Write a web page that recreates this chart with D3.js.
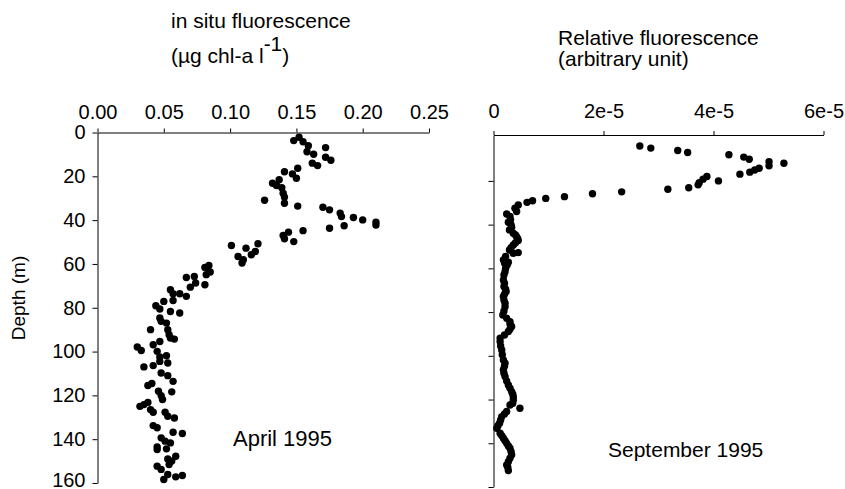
<!DOCTYPE html>
<html>
<head>
<meta charset="utf-8">
<script src="https://cdn.jsdelivr.net/npm/d3@7"></script>
<style>
  body { margin: 0; background: #fff; }
  svg text { font-family: "Liberation Sans", Arial, sans-serif; fill: #000; }
</style>
</head>
<body>
<div id="chart"></div>
<script>
// April 1995: in situ fluorescence (ug chl-a / l) vs depth (m)
var aprilValue = [
  0.148, 0.152, 0.155, 0.159, 0.158, 0.163, 0.172, 0.172, 0.176, 0.162,
  0.166, 0.151, 0.147, 0.141, 0.150, 0.137, 0.132, 0.135, 0.139, 0.140,
  0.141, 0.141, 0.126, 0.151, 0.170, 0.175, 0.183, 0.184, 0.193, 0.200,
  0.210, 0.210, 0.175, 0.186, 0.155, 0.144, 0.140, 0.141, 0.148, 0.101,
  0.112, 0.121, 0.119, 0.106, 0.110, 0.109, 0.116, 0.084, 0.081, 0.085,
  0.082, 0.067, 0.073, 0.070, 0.074, 0.081, 0.055, 0.057, 0.062, 0.067,
  0.057, 0.050, 0.044, 0.047, 0.055, 0.062, 0.047, 0.048, 0.052, 0.040,
  0.053, 0.054, 0.055, 0.058, 0.047, 0.042, 0.030, 0.033, 0.045, 0.047,
  0.052, 0.053, 0.035, 0.042, 0.047, 0.048, 0.053, 0.057, 0.038, 0.041,
  0.046, 0.048, 0.049, 0.056, 0.032, 0.035, 0.038, 0.040, 0.042, 0.051,
  0.053, 0.058, 0.042, 0.045, 0.057, 0.064, 0.048, 0.051, 0.055, 0.045,
  0.045, 0.052, 0.059, 0.053, 0.056, 0.045, 0.048, 0.054, 0.050, 0.053,
  0.059, 0.064
];
var aprilDepth = [
  3.7, 2.2, 4.2, 6.0, 8.8, 9.9, 6.9, 11.3, 12.7, 14.0,
  15.1, 16.3, 18.9, 17.9, 20.9, 21.6, 23.2, 24.2, 25.2, 27.7,
  29.5, 32.3, 30.9, 33.6, 34.1, 35.3, 36.8, 38.4, 38.8, 39.9,
  40.9, 42.2, 43.7, 42.6, 44.8, 45.5, 47.0, 48.5, 49.8, 51.6,
  52.8, 50.8, 54.3, 56.6, 58.1, 59.6, 55.8, 60.7, 61.6, 63.7,
  64.9, 66.2, 65.7, 70.6, 68.7, 69.5, 71.8, 73.6, 73.6, 74.8,
  76.7, 77.1, 79.1, 80.6, 81.7, 82.4, 84.7, 86.2, 87.0, 90.0,
  90.0, 92.3, 93.8, 94.3, 95.4, 96.9, 97.9, 99.5, 99.9, 102.5,
  101.9, 105.2, 107.0, 106.4, 104.5, 109.8, 111.0, 113.6, 115.5, 114.6,
  118.1, 120.1, 121.9, 118.4, 125.0, 124.2, 123.2, 126.5, 127.7, 127.7,
  129.5, 130.3, 133.8, 134.8, 136.8, 137.4, 139.4, 140.9, 141.7, 143.5,
  144.7, 144.4, 147.8, 149.0, 150.0, 152.3, 153.8, 151.6, 158.4, 156.1,
  157.2, 156.6
];

// September 1995: relative fluorescence (arbitrary unit, x 1e-5) vs depth (m)
var septValue = [
  2.66, 2.86, 3.35, 3.53, 4.28, 4.55, 4.65, 5.01, 5.01, 5.28,
  4.83, 4.75, 4.66, 4.48, 4.09, 3.88, 3.81, 3.74, 3.72, 3.55,
  3.17, 2.33, 1.80, 1.29, 0.95, 0.71, 0.61, 0.45, 0.39, 0.42,
  0.24, 0.30, 0.31, 0.27, 0.32, 0.33, 0.29, 0.36, 0.40, 0.42,
  0.44, 0.45, 0.40, 0.36, 0.32, 0.29, 0.36, 0.45, 0.22, 0.18,
  0.20, 0.25, 0.27, 0.22, 0.21, 0.19, 0.18, 0.20, 0.19, 0.22,
  0.23, 0.20, 0.18, 0.19, 0.21, 0.21, 0.19, 0.17, 0.24, 0.30,
  0.30, 0.33, 0.30, 0.27, 0.20, 0.12, 0.12, 0.13, 0.15, 0.16,
  0.18, 0.21, 0.20, 0.18, 0.19, 0.21, 0.24, 0.27, 0.30, 0.33,
  0.35, 0.36, 0.36, 0.35, 0.30, 0.48, 0.24, 0.20, 0.15, 0.13,
  0.11, 0.08, 0.06, 0.12, 0.15, 0.18, 0.21, 0.24, 0.27, 0.30,
  0.32, 0.33, 0.30, 0.27, 0.26, 0.24, 0.27
];
var septDepth = [
  4.0, 5.0, 6.1, 7.0, 8.0, 9.1, 10.1, 11.2, 13.1, 11.9,
  14.2, 15.0, 16.0, 16.9, 20.0, 18.0, 19.2, 20.8, 21.8, 23.1,
  23.8, 25.0, 25.9, 27.2, 28.0, 29.1, 29.8, 31.0, 32.5, 34.0,
  35.1, 36.3, 37.8, 38.9, 40.1, 41.2, 42.4, 43.9, 44.7, 45.5,
  46.4, 47.3, 48.3, 49.3, 50.5, 51.6, 53.1, 52.8, 54.5, 56.1,
  57.5, 58.4, 57.2, 60.0, 61.5, 63.0, 65.3, 66.8, 68.3, 69.5,
  70.6, 71.8, 72.9, 74.5, 75.9, 77.5, 79.5, 81.3, 82.8, 84.4,
  85.5, 86.6, 87.8, 88.9, 90.5, 91.9, 93.5, 95.5, 97.3, 99.5,
  101.9, 103.4, 104.8, 106.4, 108.0, 109.5, 111.5, 113.3, 114.8, 116.4,
  117.5, 118.7, 120.2, 121.7, 122.5, 124.0, 125.5, 126.6, 127.8, 129.3,
  130.8, 132.0, 133.1, 135.4, 136.5, 137.7, 138.8, 140.0, 141.2, 142.3,
  143.8, 145.3, 146.8, 148.4, 151.0, 149.9, 152.5
];

var aprilTicks = [0, 0.05, 0.10, 0.15, 0.20, 0.25];
var septTicks = [0, 2e-5, 4e-5, 6e-5];
var septTickLabels = ['0', '2e-5', '4e-5', '6e-5'];
var depthTicks = [0, 20, 40, 60, 80, 100, 120, 140, 160];

var width = 845, height = 489;
var dotR = 3.7;
var tickFont = '20px';

var svg = d3.select('#chart').append('svg')
  .attr('width', width)
  .attr('height', height);

// ---- left panel: April ----
var xA = d3.scaleLinear().domain([0, 0.25]).range([97.5, 429]);
var yA = d3.scaleLinear().domain([0, 160]).range([132.5, 483]);

var gA = svg.append('g');

gA.append('g')
  .attr('transform', 'translate(0,' + yA(0) + ')')
  .call(d3.axisTop(xA).tickValues(aprilTicks).tickSizeInner(4).tickSizeOuter(0)
    .tickPadding(10).tickFormat(d3.format('.2f')));

gA.append('g')
  .attr('class', 'yaxis')
  .attr('transform', 'translate(' + xA(0) + ',0)')
  .call(d3.axisLeft(yA).tickValues(depthTicks).tickSizeInner(5).tickSizeOuter(0)
    .tickPadding(7));

gA.selectAll('.dot')
  .data(aprilValue)
  .enter()
  .append('circle')
  .attr('class', 'dot')
  .attr('cx', function(d) { return xA(d); })
  .attr('cy', function(d, i) { return yA(aprilDepth[i]); })
  .attr('r', dotR)
  .attr('fill', '#000');

// ---- right panel: September ----
var xS = d3.scaleLinear().domain([0, 6e-5]).range([493.5, 823.5]);
var yS = d3.scaleLinear().domain([-1, 160]).range([135, 487]);

var gS = svg.append('g');

gS.append('g')
  .attr('transform', 'translate(0,' + yS(-1) + ')')
  .call(d3.axisTop(xS).tickValues(septTicks).tickSizeInner(4).tickSizeOuter(0)
    .tickPadding(13).tickFormat(function(d, i) { return septTickLabels[i]; }));

gS.append('g')
  .attr('transform', 'translate(' + xS(0) + ',0)')
  .call(d3.axisLeft(yS).tickValues(depthTicks.slice(1)).tickSizeInner(5).tickSizeOuter(0)
    .tickFormat(''));

gS.selectAll('.dot')
  .data(septValue)
  .enter()
  .append('circle')
  .attr('class', 'dot')
  .attr('cx', function(d) { return xS(d * 1e-5); })
  .attr('cy', function(d, i) { return yS(septDepth[i]); })
  .attr('r', dotR)
  .attr('fill', '#000');

// axis styling
svg.selectAll('.domain').attr('stroke', '#000').attr('stroke-width', 1);
svg.selectAll('.tick line').attr('stroke', '#000');
svg.selectAll('.tick text')
  .attr('font-family', '"Liberation Sans", Arial, sans-serif')
  .attr('font-size', tickFont)
  .attr('fill', '#000');
// nudge the bottom depth label up so it stays inside the picture
svg.selectAll('.yaxis .tick text')
  .filter(function(d) { return d === 160; })
  .attr('dy', '0.15em');

// ---- titles and labels ----
svg.append('text')
  .attr('x', 171).attr('y', 28)
  .attr('font-size', '21px')
  .text('in situ fluorescence');

var unit = svg.append('text')
  .attr('x', 171).attr('y', 63)
  .attr('font-size', '21px');
unit.append('tspan').text('(µg chl-a l');
unit.append('tspan').attr('dy', -12).text('-1');
unit.append('tspan').attr('dy', 12).text(')');

svg.append('text')
  .attr('x', 558).attr('y', 45)
  .attr('font-size', '21px')
  .text('Relative fluorescence');

svg.append('text')
  .attr('x', 558).attr('y', 66)
  .attr('font-size', '21px')
  .text('(arbitrary unit)');

svg.append('text')
  .attr('transform', 'translate(25,298) rotate(-90)')
  .attr('text-anchor', 'middle')
  .attr('font-size', '19px')
  .text('Depth (m)');

svg.append('text')
  .attr('x', 233).attr('y', 446)
  .attr('font-size', '22px')
  .text('April 1995');

svg.append('text')
  .attr('x', 608).attr('y', 457)
  .attr('font-size', '21px')
  .text('September 1995');
</script>
</body>
</html>
